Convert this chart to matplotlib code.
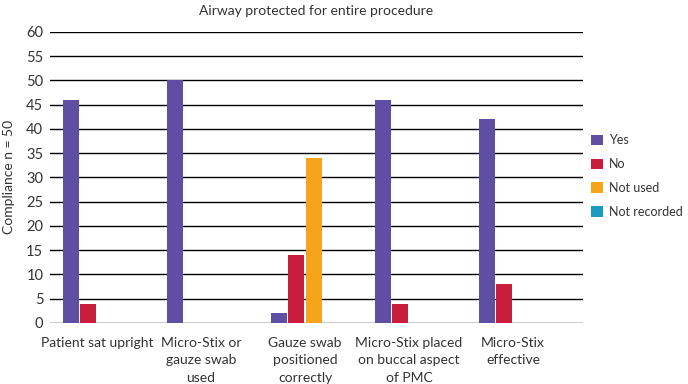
import matplotlib
matplotlib.use("Agg")
from matplotlib import pyplot as plt
import numpy as np

plt.rcParams['font.family'] = ['Lato', 'DejaVu Sans']

# data
categories = ["Patient sat upright", "Micro-Stix or\ngauze swab\nused",
              "Gauze swab\npositioned\ncorrectly", "Micro-Stix placed\non buccal aspect\nof PMC",
              "Micro-Stix\neffective"]
series_names = ["Yes", "No", "Not used", "Not recorded"]
yes = [46, 50, 2, 46, 42]
no = [4, 0, 14, 4, 8]
not_used = [0, 0, 34, 0, 0]
not_recorded = [0, 0, 0, 0, 0]
colors = ["#5f4ea3", "#c81e3c", "#f6a41c", "#1a9ac0"]

fig = plt.figure(figsize=(6.88, 3.84), dpi=100)
ax = fig.add_axes([0.073, 0.159, 0.774, 0.758])

x = np.arange(len(categories))
w = 0.155
step = 0.168
for i, (vals, name) in enumerate(zip([yes, no, not_used, not_recorded], series_names)):
    ax.bar(x + (i - 1.5) * step, vals, width=w, color=colors[i], label=name, zorder=3)

ax.set_ylim(0, 60)
ax.set_xlim(-0.45, 4.67)
ax.set_yticks(range(0, 61, 5))
ax.yaxis.grid(True, color="black", linewidth=1.0, zorder=0)
for s in ax.spines.values():
    s.set_visible(False)
ax.tick_params(axis="y", length=0, labelsize=10.5, colors="#333333", pad=5)
ax.tick_params(axis="x", length=0, labelsize=10, colors="#333333", pad=10)
ax.set_xticks(x)
ax.set_xticklabels(categories, va="top", linespacing=1.55)
ax.set_ylabel("Compliance n = 50", fontsize=10, color="#333333", labelpad=8)
ax.set_title("Airway protected for entire procedure", fontsize=10, color="#333333", pad=12)

ax.legend(loc="center left", bbox_to_anchor=(1.0, 0.505), frameon=False, fontsize=9,
          handlelength=0.9, handleheight=0.9, handletextpad=0.5, labelspacing=0.95,
          borderaxespad=0.3, labelcolor="#333333")

fig.savefig("out.png", dpi=100)
